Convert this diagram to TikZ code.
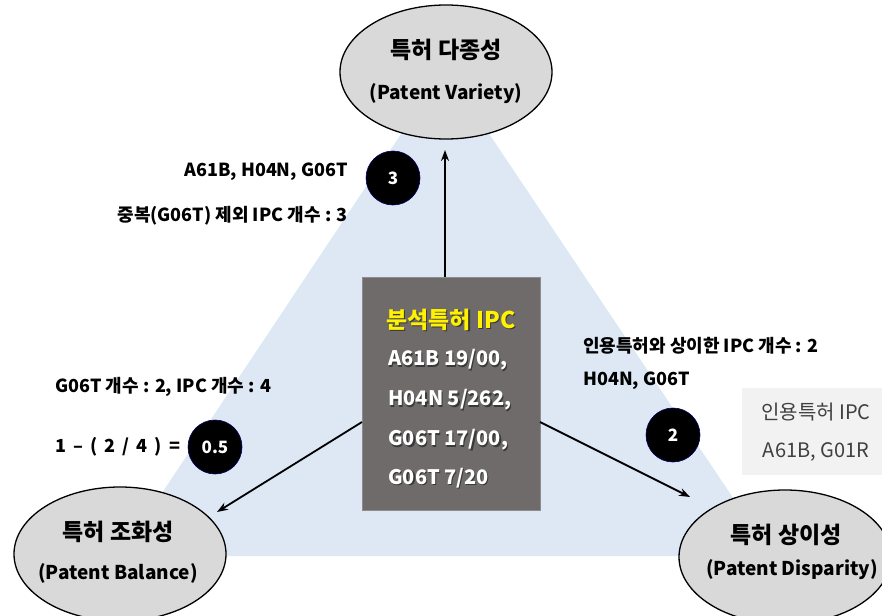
\documentclass[tikz,border=0pt]{standalone}
\usepackage{fontspec}
\setmainfont{Noto Sans CJK KR}
\usetikzlibrary{shapes.geometric,arrows.meta}
\definecolor{triblue}{HTML}{DDE8F4}
\definecolor{ellgray}{HTML}{D9D9D9}
\definecolor{boxgray}{HTML}{6F6B6B}
\definecolor{boxedge}{HTML}{8C8C8C}
\definecolor{citegray}{HTML}{F2F2F2}
\definecolor{citetext}{HTML}{404040}
\definecolor{shadowgray}{HTML}{3A3838}
\tikzset{
  ellnode/.style={ellipse, draw=black, line width=1.3pt, fill=ellgray, minimum width=212pt, minimum height=134pt, inner sep=0pt},
  elltitle/.style={font=\bfseries\fontsize{23}{27}\selectfont, inner sep=0pt},
  ellsub/.style={font=\bfseries\fontsize{19}{23}\selectfont, inner sep=0pt},
  numcircle/.style={circle, fill=black, draw=blue!40!black, line width=0.6pt, minimum size=54pt, inner sep=0pt, text=white, font=\bfseries\fontsize{17}{19}\selectfont},
  lbl/.style={font=\bfseries\fontsize{18}{20}\selectfont, inner sep=0pt},
  boxline/.style={text=white, font=\bfseries\fontsize{20}{24}\selectfont, anchor=west, inner sep=0pt},
  boxshadow/.style={text=shadowgray, font=\bfseries\fontsize{20}{24}\selectfont, anchor=west, inner sep=0pt},
  arr/.style={line width=1.8pt, -{Stealth[length=11pt,width=8pt]}},
}
\begin{document}
\begin{tikzpicture}[x=1pt,y=-1pt]
\clip (0,0) rectangle (882,615);
\fill[white] (0,0) rectangle (882,615);
% triangle
\fill[triblue] (445,68) -- (120,556) -- (772,556) -- cycle;
% ellipses
\node[ellnode] (top) at (446,72) {};
\node[elltitle] (topt) at (446,50) {특허 다종성};
\node[ellsub] (tops) at (446,94) {(Patent Variety)};
\node[ellnode] (bl) at (120,554) {};
\node[elltitle] (blt) at (118,532) {특허 조화성};
\node[ellsub] (bls) at (118,573) {(Patent Balance)};
\node[ellnode] (br) at (785,557) {};
\node[elltitle] (brt) at (786,535) {특허 상이성};
\node[ellsub] (brs) at (792,570) {(Patent Disparity)};
% center box
\node[draw=boxedge, line width=1.2pt, fill=boxgray, minimum width=178pt, minimum height=233pt, anchor=north west, inner sep=0pt] (box) at (362,277) {};
\node[text=shadowgray, font=\bfseries\fontsize{23}{27}\selectfont, inner sep=0pt] (titles) at (452.2,321.2) {분석특허 IPC};
\node[text=yellow, font=\bfseries\fontsize{23}{27}\selectfont, inner sep=0pt] (title) at (451,320) {분석특허 IPC};
\node[boxshadow] (s1) at (389.2,361.2) {A61B 19/00,};
\node[boxshadow] (s2) at (389.2,401.2) {H04N 5/262,};
\node[boxshadow] (s3) at (389.2,441.2) {G06T 17/00,};
\node[boxshadow] (s4) at (389.2,479.2) {G06T 7/20};
\node[boxline] (l1) at (388,360) {A61B 19/00,};
\node[boxline] (l2) at (388,400) {H04N 5/262,};
\node[boxline] (l3) at (388,440) {G06T 17/00,};
\node[boxline] (l4) at (388,478) {G06T 7/20};
% arrows
\coordinate (bt) at (445,277);
\coordinate (bl0) at (362,422);
\coordinate (br0) at (540,422);
\draw[arr] (bt) -- (445,150);
\draw[arr] (bl0) -- (217,512);
\draw[arr] (br0) -- (690,497);
% circles
\node[numcircle] (c3) at (393,178) {3};
\node[numcircle] (c05) at (215,447) {0.5};
\node[numcircle] (c2) at (673,435) {2};
% labels
\node[lbl, anchor=east] (t1) at (348,172) {A61B, H04N, G06T};
\node[lbl, anchor=east] (t2) at (348,216) {중복(G06T) 제외 IPC 개수 : 3};
\node[lbl, anchor=west] (t3) at (55,387) {G06T 개수 : 2, IPC 개수 : 4};
\node[lbl, anchor=west] (t4) at (55,447) {1 \,–\, ( \,2\, / \,4\, ) \,=};
\node[lbl, anchor=west] (t5) at (583,346) {인용특허와 상이한 IPC 개수 : 2};
\node[lbl, anchor=west] (t6) at (583,381) {H04N, G06T};
% cited box
\node[fill=citegray, minimum width=142pt, minimum height=87pt, anchor=north west, inner sep=0pt] (cite) at (742,388) {};
\node[text=citetext, font=\fontsize{20}{24}\selectfont, inner sep=0pt] (ct1) at (816,412) {인용특허 IPC};
\node[text=citetext, font=\fontsize{20}{24}\selectfont, inner sep=0pt] (ct2) at (816,452) {A61B, G01R};
\end{tikzpicture}
\end{document}
